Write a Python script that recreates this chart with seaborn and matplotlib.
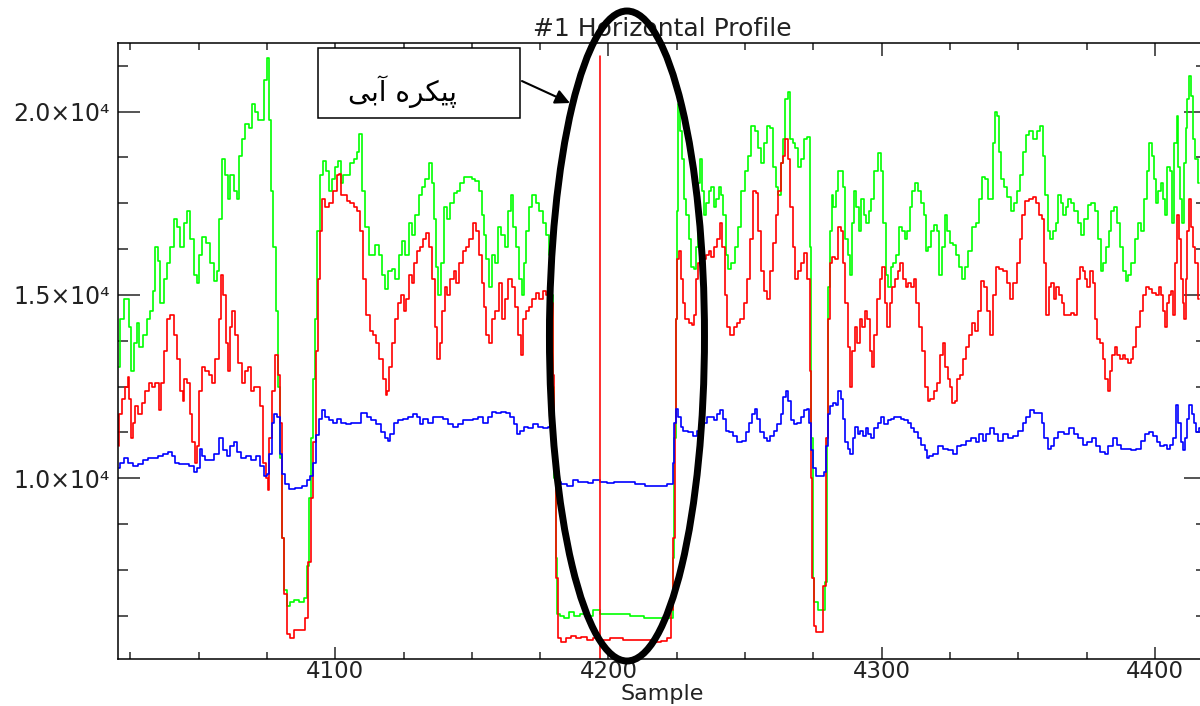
import matplotlib
matplotlib.use("Agg")
import matplotlib.pyplot as plt
import seaborn as sns
from matplotlib.ticker import MultipleLocator, FixedLocator, FuncFormatter
from matplotlib.patches import Ellipse, Rectangle

# ---------------- data ----------------
green_x = [4020.7, 4021.9, 4023.8, 4025.0, 4025.6, 4026.8, 4027.8, 4028.6, 4030.5, 4031.7, 4032.9, 4033.5,
           4034.7, 4035.4, 4036.6, 4037.8, 4039.0, 4040.2, 4041.5, 4042.7, 4043.9, 4045.1, 4046.3, 4047.5,
           4048.8, 4049.7, 4050.6, 4051.8, 4053.6, 4054.9, 4056.1, 4057.3, 4057.9, 4059.1, 4060.4, 4061.0,
           4062.2, 4063.4, 4064.6, 4065.2, 4066.5, 4067.7, 4068.9, 4070.1, 4071.3, 4072.5, 4073.8, 4074.4,
           4075.4, 4076.2, 4076.8, 4077.8, 4078.6, 4079.3, 4080.1, 4080.8, 4081.7, 4082.9, 4084.1, 4086.0,
           4087.8, 4089.0, 4090.0, 4090.8, 4091.5, 4092.4, 4093.0, 4093.9, 4095.1, 4096.1, 4096.9, 4098.2,
           4099.4, 4100.6, 4101.5, 4102.4, 4103.6, 4104.9, 4106.1, 4107.3, 4108.3, 4109.1, 4110.4, 4111.6,
           4112.8, 4114.0, 4115.2, 4116.5, 4117.7, 4118.9,
           4120.1, 4121.4, 4122.6, 4123.8, 4125.0, 4126.2, 4127.5, 4128.7, 4129.9, 4131.1, 4132.3, 4133.6,
           4134.8, 4135.7, 4136.6, 4137.2, 4138.2, 4139.0, 4140.3, 4141.5, 4142.7, 4143.9, 4145.1, 4146.4,
           4147.6, 4149.2, 4150.6, 4151.8, 4153.1, 4154.0, 4154.9, 4155.7, 4156.7, 4157.7, 4158.9, 4160.1,
           4161.4, 4162.6, 4163.8, 4164.7, 4165.5, 4166.5, 4167.7, 4168.7, 4169.5, 4170.4, 4171.4, 4172.8,
           4174.0, 4175.3, 4176.5, 4177.5, 4178.7, 4179.3, 4179.9, 4180.5, 4180.9, 4181.4, 4182.9, 4184.8,
           4186.6, 4188.4, 4190.9, 4193.3, 4195.7, 4198.2, 4201.8, 4205.5, 4210.4, 4215.3, 4218.3,
           4220.1, 4223.1, 4223.8, 4224.4, 4224.7, 4225.2, 4225.7, 4226.4, 4227.2, 4228.0, 4229.0, 4229.9,
           4230.6, 4231.7, 4232.3, 4232.9, 4233.8, 4234.5, 4235.4, 4236.3, 4237.2, 4238.2, 4239.1, 4239.9,
           4240.7, 4241.5, 4242.4, 4243.4, 4244.3, 4245.6, 4246.8, 4248.0, 4249.2, 4250.5, 4251.7, 4252.9,
           4254.1, 4255.4, 4256.4, 4257.5, 4258.7, 4259.9, 4260.8, 4261.7, 4262.7, 4263.6, 4264.4, 4265.2,
           4266.0, 4266.9, 4267.9, 4268.9, 4269.7, 4270.9, 4272.2, 4273.4, 4274.0, 4274.6, 4275.0, 4275.8,
           4277.3, 4278.9, 4279.6, 4280.1, 4280.6, 4281.4, 4282.0, 4282.6, 4283.6, 4284.4, 4285.4, 4286.3,
           4287.2, 4288.1, 4288.9, 4289.7, 4290.3, 4291.2, 4292.1, 4293.0, 4293.9, 4294.8, 4295.8, 4296.7,
           4297.9, 4299.1, 4300.1, 4301.0, 4301.8, 4302.8, 4303.7, 4304.6, 4305.6, 4306.8, 4308.1, 4308.9,
           4309.8, 4310.8, 4311.7, 4312.7, 4313.8, 4315.1, 4315.9,
           4316.6, 4317.6, 4318.5, 4319.7, 4320.5, 4321.5, 4322.5, 4323.5, 4324.5, 4325.4, 4326.7, 4327.7,
           4328.6, 4329.9, 4331.1, 4332.3, 4333.8, 4335.0, 4336.2, 4337.2, 4338.4, 4339.4, 4340.4, 4341.1,
           4341.7, 4342.6, 4343.3, 4344.2, 4345.4, 4346.7, 4347.9, 4349.1, 4350.3, 4351.2, 4352.2, 4353.4,
           4354.6, 4356.1, 4357.3, 4358.5, 4359.5, 4360.3, 4361.2, 4362.2, 4363.2, 4364.2, 4365.0, 4365.9,
           4366.9, 4367.9, 4368.8, 4369.9, 4371.2, 4372.4, 4373.6, 4374.8, 4376.1, 4377.3, 4378.5, 4379.7,
           4380.7, 4381.6, 4382.6, 4383.5, 4384.6, 4385.6, 4386.5, 4387.7, 4388.9, 4389.8, 4390.8, 4392.0,
           4393.2, 4394.4, 4395.7, 4396.5, 4397.5, 4398.4, 4399.2, 4400.0, 4400.7, 4401.7, 4402.4, 4403.4,
           4404.2, 4404.9, 4405.8, 4406.7, 4407.6, 4408.3, 4408.8, 4409.5, 4410.4, 4411.0, 4411.6, 4412.2,
           4412.9, 4413.7, 4414.4, 4415.3, 4416.1]
green_y = [13040, 14350, 14890, 14130, 12930, 13700, 14240, 13590, 13910, 14350, 14560, 15100,
           16300, 15920, 14780, 15430, 15870, 16300, 17070, 16850, 16300, 16960, 17280, 16520,
           15540, 15330, 16090, 16570, 16410, 15870, 15380, 15650, 17070, 18700, 18260, 17610,
           18260, 17830, 17610, 18800, 19240, 19670, 19560, 20220, 20000, 19780, 19780, 20870,
           21470, 19780, 17830, 16300, 14560, 12500, 10540, 8370, 6960, 6520, 6630, 6680,
           6630, 6740, 7610, 9460, 11090, 12720, 14350, 16740, 18260, 18640, 18370, 17830,
           18150, 18480, 18640, 18040, 18260, 18260, 18590, 18700, 18910, 19400, 17830, 16850,
           16090, 16090, 16360, 16090, 15540, 15160,
           15650, 15710, 15430, 16090, 16470, 16090, 16960, 16630, 17170, 17720, 17940, 18150,
           18590, 18040, 17070, 15760, 15000, 15870, 17390, 17070, 17500, 17770, 17830, 18040,
           18210, 18210, 18150, 18100, 17830, 17170, 16630, 15980, 15220, 16090, 15870, 16850,
           16630, 16300, 17280, 17720, 16850, 16300, 15430, 15000, 15870, 16740, 17390, 17720,
           17500, 17280, 16960, 16630, 16090, 15000, 12500, 10000, 7830, 6310, 6250, 6200,
           6360, 6250, 6310, 6250, 6410, 6310, 6310, 6310, 6250, 6180, 6180,
           6180, 6200, 7830, 11090, 14350, 17280, 20200, 19460, 18700, 17610, 17170, 16520,
           15760, 15710, 16300, 18040, 18700, 17830, 17170, 17500, 17830, 17940, 17390, 17610,
           17940, 17720, 17170, 16090, 15710, 15870, 16300, 16850, 17830, 18370, 18800, 19620,
           19460, 19020, 18590, 19130, 19620, 19560, 18480, 17940, 17720, 18590, 19240, 20330,
           20540, 19240, 19130, 19020, 18480, 18700, 19240, 19300, 16300, 11090, 7280, 6630,
           6410, 6410, 7170, 11090, 15220, 16740, 17720, 17390, 17830, 18370, 18370, 17940,
           16520, 16090, 15540, 16960, 17830, 17390, 16740, 17610, 17170, 16960, 17280, 17610,
           18370, 18860, 18370, 16960, 15540, 15220, 15760, 15870, 16090, 16850, 16740, 16520,
           16740, 17390, 17830, 18040, 17830, 17500, 17170,
           16200, 16300, 16740, 16900, 16740, 15540, 16300, 17170, 16740, 16410, 16360, 16090,
           15760, 15430, 15760, 16200, 16850, 16960, 17610, 18210, 18150, 17610, 17610, 19130,
           20000, 19890, 18910, 18150, 17940, 17660, 17280, 17500, 17830, 18260, 18910, 19350,
           19460, 19240, 19460, 19620, 18800, 17720, 16740, 16520, 16740, 16960, 17720, 17500,
           17170, 17390, 17610, 17500, 17280, 16960, 16630, 17070, 17450, 17500, 17280, 16520,
           15650, 15870, 16300, 16740, 17280, 17390, 16960, 16300, 15650, 15380, 15540, 15870,
           16520, 16960, 16740, 17610, 18370, 19130, 18800, 18150, 17500, 17830, 18040, 17610,
           17170, 18480, 18370, 16960, 19130, 19890, 18480, 17610, 16960, 18590, 19560, 20330,
           20980, 20430, 19240, 18700, 18040]

red_x = [4020.7, 4021.3, 4022.5, 4023.8, 4024.4, 4025.0, 4025.6, 4026.2, 4027.4, 4028.6, 4029.9, 4031.1,
         4032.3, 4033.5, 4034.7, 4036.0, 4036.6, 4037.8, 4039.0, 4040.2, 4041.5, 4042.7, 4043.9, 4044.5,
         4045.1, 4046.3, 4047.3, 4048.2, 4048.8, 4049.7, 4050.6, 4051.8, 4053.0, 4054.3, 4055.5, 4056.7,
         4057.9, 4058.5, 4059.5, 4060.4, 4061.0, 4061.9, 4062.8, 4064.0, 4065.2, 4066.5, 4067.7, 4068.5,
         4069.5, 4070.7, 4071.9, 4073.2, 4074.1, 4075.0, 4075.6, 4076.2, 4077.4, 4078.6, 4079.5, 4080.2,
         4080.8, 4081.7, 4082.9, 4084.1, 4086.0, 4088.4, 4089.6, 4090.5, 4091.5, 4092.4, 4093.3, 4094.1,
         4094.9, 4095.7, 4096.9, 4098.2, 4100.0, 4101.0, 4101.8, 4102.4, 4103.6, 4104.9, 4106.1, 4107.3,
         4108.5, 4109.7, 4110.7, 4111.9, 4113.2, 4114.4, 4115.6, 4116.8, 4118.0, 4118.9,
         4119.2, 4120.1, 4121.1, 4122.3, 4123.6, 4124.8, 4125.6, 4126.5, 4127.5, 4128.4, 4129.3, 4130.5,
         4131.7, 4132.9, 4133.9, 4134.8, 4136.0, 4137.0, 4137.8, 4138.7, 4139.7, 4140.6, 4141.5, 4142.7,
         4143.9, 4144.8, 4146.0, 4147.2, 4148.4, 4149.7, 4150.9, 4151.8, 4153.1, 4154.0, 4154.9, 4155.7,
         4157.0, 4157.9, 4159.2, 4160.4, 4161.6, 4162.8, 4164.0, 4165.3, 4166.5, 4167.5, 4168.3, 4169.2,
         4170.4, 4171.6, 4172.8, 4174.0, 4175.3, 4176.5, 4177.7, 4178.7, 4179.3, 4179.9, 4180.5, 4181.1,
         4181.7, 4183.6, 4185.4, 4187.2, 4189.0, 4190.9, 4193.3, 4195.7, 4198.2, 4203.1, 4207.9, 4212.8,
         4218.3,
         4220.1, 4222.5, 4223.5, 4224.0, 4224.5, 4225.0, 4225.5, 4226.2, 4226.9, 4227.7, 4228.7, 4229.9,
         4230.9, 4231.7, 4232.3, 4233.3, 4234.5, 4235.4, 4236.3, 4237.2, 4238.2, 4239.1, 4240.3, 4241.2,
         4242.1, 4243.1, 4244.0, 4245.2, 4246.4, 4247.7, 4248.9, 4250.1, 4251.3, 4252.6, 4253.4, 4254.4,
         4255.4, 4256.4, 4257.5, 4258.7, 4259.9, 4260.8, 4261.7, 4262.7, 4263.6, 4264.4, 4265.2, 4266.0,
         4266.9, 4267.9, 4268.9, 4269.7, 4270.9, 4272.2, 4273.4, 4273.8, 4274.2, 4274.7, 4275.5, 4276.4,
         4278.3, 4279.1, 4279.9, 4280.6, 4281.4, 4282.3, 4283.6, 4284.5, 4285.4, 4286.3, 4287.1, 4288.1,
         4288.9, 4289.7, 4290.5, 4291.4, 4292.4, 4293.4, 4294.2, 4295.1, 4296.1, 4296.9, 4297.8, 4298.8,
         4299.7, 4300.7, 4301.6, 4302.4, 4303.4, 4304.4, 4305.4, 4306.4, 4307.3, 4308.3, 4309.3, 4310.3,
         4311.3, 4312.2, 4313.2, 4314.4, 4315.4,
         4316.4, 4317.2, 4318.5, 4319.7, 4320.9, 4321.8, 4322.8, 4323.7, 4324.6, 4325.4, 4326.2, 4327.2,
         4328.1, 4329.1, 4330.1, 4331.3, 4332.6, 4333.8, 4334.8, 4335.6, 4336.8, 4338.1, 4339.1, 4340.2,
         4341.1, 4342.4, 4343.6, 4345.1, 4346.3, 4347.5, 4348.7, 4350.0, 4350.9, 4351.9, 4353.1, 4354.6,
         4356.1, 4357.1, 4358.3, 4359.0, 4359.8, 4360.7, 4361.5, 4362.5, 4363.4, 4364.4, 4365.4, 4366.3,
         4367.5, 4368.7, 4369.9, 4371.2, 4372.0, 4373.0, 4374.0, 4374.8, 4375.7, 4376.7, 4377.7, 4378.3,
         4379.1, 4380.4, 4381.3, 4382.3, 4383.0, 4383.8, 4384.8, 4385.7, 4386.7, 4387.7, 4388.7, 4389.7,
         4390.6, 4391.6, 4392.6, 4393.8, 4395.1, 4396.3, 4397.3, 4398.5, 4399.7, 4400.9, 4401.9, 4402.7,
         4403.4, 4404.1, 4404.9, 4405.6, 4406.3, 4407.1, 4407.6, 4408.3, 4409.0, 4409.8, 4410.4, 4411.0,
         4411.6, 4412.2, 4412.9, 4413.7, 4414.4, 4415.3, 4416.1]
red_y = [10870, 11740, 12170, 12500, 12770, 12170, 11090, 11520, 11960, 11740, 12060, 12390,
         12610, 12500, 12610, 11850, 12610, 13480, 14350, 14450, 13910, 13260, 12390, 12120,
         12720, 12610, 11740, 10980, 10430, 10870, 12390, 13040, 12930, 12830, 12610, 13260,
         14350, 15540, 15000, 13700, 12930, 14130, 14560, 13910, 13150, 12610, 12930, 13040,
         12390, 12500, 12500, 11960, 10430, 10000, 9670, 11090, 12390, 13370, 12830, 11520,
         8370, 6850, 5760, 5650, 5870, 5870, 6200, 7720, 9460, 10980, 13480, 15430,
         16740, 17610, 17390, 17500, 17830, 18260, 18310, 17720, 17720, 17550, 17500, 17390,
         17280, 16740, 15430, 14450, 14020, 13910, 13700, 13260, 12720, 12280,
         12390, 13040, 13700, 14350, 14780, 15000, 14560, 14890, 15540, 15330, 15870, 16200,
         16300, 16520, 16690, 16300, 15430, 14130, 13260, 13700, 14560, 15220, 15000, 15430,
         15650, 15330, 15870, 16200, 16300, 16520, 16960, 16740, 16090, 15330, 14670, 13910,
         13700, 14350, 14560, 15330, 14350, 14890, 15430, 15220, 14670, 13910, 13370, 14350,
         14560, 14670, 14890, 15050, 14890, 15110, 15000, 14890, 14780, 12830, 10540, 7280,
         5650, 5540, 5650, 5710, 5650, 5680, 5600, 5650, 5600, 5650, 5600, 5600,
         5540,
         5570, 5650, 6410, 8370, 11520, 14350, 15980, 16200, 15430, 14780, 14350, 14240,
         14180, 14450, 15430, 15870, 15760, 15980, 16090, 16200, 16040, 16300, 16520, 16960,
         16300, 15000, 14130, 13910, 14130, 14240, 14350, 14780, 15430, 16520, 17830, 17770,
         16740, 15650, 15110, 14890, 15650, 16410, 17170, 17830, 18590, 18800, 19240, 18700,
         17390, 16300, 15430, 15650, 15870, 16140, 15430, 12930, 10000, 7280, 5980, 5810,
         5810, 7060, 11090, 14350, 15870, 16040, 15980, 16850, 16740, 15870, 14780, 13590,
         12500, 13480, 14130, 13700, 14350, 14130, 14560, 14350, 13480, 13040, 13910, 14890,
         15430, 15760, 14780, 14130, 14780, 15220, 15430, 15650, 15870, 15430, 15220, 15330,
         15220, 15430, 14780, 14130, 13480,
         12500, 12120, 12170, 12390, 12610, 13370, 13700, 13040, 12720, 12500, 12060, 12120,
         12720, 12830, 13260, 13590, 13910, 14240, 14020, 14560, 15380, 15220, 14560, 13910,
         15000, 15760, 15710, 15650, 15330, 14890, 15330, 15870, 16520, 17170, 17550, 17610,
         17660, 17500, 17170, 17070, 15870, 14450, 15220, 15330, 14890, 15220, 15000, 14780,
         14450, 14450, 14510, 14450, 15430, 15760, 15650, 15430, 15220, 15650, 15330, 14350,
         13800, 13700, 13260, 12720, 12390, 12930, 13370, 13590, 13370, 13260, 13370, 13260,
         13150, 13260, 13590, 14130, 14560, 15000, 15220, 15160, 15050, 15000, 15220, 15000,
         14560, 14130, 14780, 15000, 15110, 14450, 15870, 17170, 16520, 15430, 14780, 14350,
         15430, 16740, 17610, 16850, 16300, 15870, 14890]

blue_x = [4020.7, 4021.9, 4023.2, 4025.0, 4026.8, 4028.6, 4030.5, 4032.3, 4034.1, 4036.0, 4037.8, 4039.6,
          4040.8, 4042.1, 4043.9, 4045.7, 4047.5, 4048.8, 4049.7, 4051.0, 4051.8, 4053.0, 4054.9, 4056.7,
          4058.3, 4059.7, 4061.0, 4062.2, 4063.4, 4064.6, 4066.5, 4068.3, 4070.1, 4071.9, 4073.4, 4074.4,
          4075.4, 4076.2, 4077.4, 4078.0, 4079.3, 4080.1, 4081.1, 4082.3, 4084.1, 4086.6, 4089.0, 4090.2,
          4091.5, 4092.4, 4093.3, 4094.5, 4095.7, 4096.9, 4098.2, 4100.0, 4101.2, 4103.0, 4104.9, 4106.7,
          4108.5, 4110.7, 4112.2, 4114.0, 4115.8, 4117.7, 4118.9,
          4119.5, 4120.7, 4122.0, 4123.8, 4125.6, 4127.5, 4129.3, 4130.5, 4131.7, 4132.9, 4134.8, 4136.6,
          4138.4, 4140.3, 4142.1, 4143.9, 4145.7, 4147.6, 4149.4, 4151.2, 4153.1, 4154.9, 4156.7, 4157.9,
          4159.8, 4161.6, 4163.4, 4164.7, 4165.9, 4167.1, 4168.3, 4169.9, 4171.4, 4173.2, 4175.0, 4176.9,
          4178.7, 4179.9, 4180.7, 4181.4, 4183.6, 4186.0, 4187.8, 4189.7, 4191.5, 4193.3, 4195.7, 4198.2,
          4200.6, 4203.1, 4207.9, 4211.6, 4215.3, 4218.3,
          4220.1, 4223.1, 4223.8, 4224.4, 4225.0, 4226.0, 4226.8, 4228.0, 4229.9, 4231.7, 4232.9, 4234.2,
          4235.4, 4236.6, 4237.8, 4239.1, 4240.3, 4241.5, 4242.4, 4243.4, 4244.8, 4246.4, 4248.0, 4249.5,
          4251.0, 4252.2, 4253.2, 4254.0, 4255.0, 4256.2, 4257.5, 4258.7, 4259.9, 4261.1, 4262.4, 4263.6,
          4264.4, 4265.4, 4266.3, 4267.3, 4268.5, 4269.7, 4270.9, 4272.2, 4273.1, 4274.0, 4274.6, 4275.2,
          4276.4, 4278.3, 4279.5, 4280.1, 4280.7, 4281.6, 4282.6, 4283.6, 4284.5, 4285.4, 4286.3, 4287.2,
          4288.1, 4288.9, 4289.9, 4290.8, 4291.8, 4292.6, 4293.6, 4294.6, 4295.4, 4296.7, 4297.9, 4299.1,
          4300.3, 4301.6, 4302.8, 4304.0, 4305.2, 4306.5, 4307.7, 4308.9, 4310.2, 4311.4, 4312.6, 4313.8,
          4315.1, 4316.3,
          4316.6, 4317.9, 4319.7, 4321.5, 4323.4, 4325.2, 4327.0, 4328.3, 4330.1, 4331.9, 4333.8, 4335.0,
          4336.5, 4337.5, 4338.7, 4340.5, 4341.7, 4343.6, 4345.4, 4347.3, 4349.1, 4350.9, 4352.2, 4353.4,
          4354.9, 4356.5, 4358.0, 4359.0, 4360.1, 4361.4, 4362.6, 4363.8, 4365.6, 4367.5, 4369.3, 4371.2,
          4372.8, 4374.2, 4376.1, 4377.7, 4379.1, 4381.0, 4382.2, 4383.8, 4385.3, 4386.7, 4388.3, 4390.2,
          4392.0, 4393.8, 4395.7, 4397.3, 4398.7, 4400.0, 4401.2, 4402.7, 4403.9, 4405.1, 4406.3, 4407.3,
          4408.2, 4409.0, 4409.8, 4410.7, 4411.5, 4412.2, 4413.1, 4413.8, 4414.7, 4415.6, 4416.5]
blue_y = [10270, 10430, 10540, 10430, 10330, 10380, 10490, 10540, 10540, 10600, 10650, 10710,
          10600, 10430, 10380, 10380, 10330, 10160, 10270, 10810, 10600, 10490, 10490, 10650,
          11090, 10760, 10600, 10870, 11000, 10710, 10540, 10600, 10490, 10600, 10330, 10050,
          10110, 10650, 11520, 11740, 11680, 10650, 10110, 9840, 9700, 9730, 9780, 9950,
          10050, 10430, 11170, 11610, 11850, 11680, 11580, 11520, 11610, 11520, 11470, 11520,
          11520, 11790, 11680, 11580, 11470, 11250, 11090,
          11030, 11200, 11520, 11580, 11630, 11680, 11740, 11680, 11470, 11630, 11520, 11680,
          11680, 11630, 11470, 11410, 11470, 11580, 11580, 11630, 11680, 11520, 11680, 11820,
          11790, 11820, 11790, 11680, 11470, 11200, 11300, 11410, 11360, 11470, 11410, 11360,
          11410, 11200, 10650, 9890, 9840, 9800, 9950, 9890, 9910, 9870, 9950, 9910,
          9870, 9890, 9890, 9840, 9780, 9780,
          9800, 9840, 10430, 11520, 11900, 11680, 11410, 11300, 11250, 11140, 11300, 11520,
          11520, 11680, 11680, 11580, 11740, 11850, 11630, 11300, 11250, 11140, 10980, 11030,
          11250, 11520, 11740, 11900, 11630, 11250, 11090, 11030, 11140, 11300, 11470, 11740,
          12230, 12390, 12120, 11580, 11470, 11520, 11680, 11850, 11900, 11520, 10760, 10270,
          10050, 10050, 10160, 10870, 11740, 11960, 12060, 12010, 12390, 12170, 11630, 10980,
          10810, 10650, 11090, 11410, 11200, 11300, 11140, 11360, 11200, 11090, 11360, 11520,
          11680, 11470, 11580, 11630, 11680, 11680, 11630, 11580, 11520, 11360, 11250, 11090,
          10920, 10760,
          10540, 10600, 10650, 10870, 10810, 10760, 10650, 10870, 10920, 11030, 11090, 10980,
          11200, 11030, 11200, 11360, 11200, 11030, 11200, 11090, 11140, 11300, 11520, 11680,
          11850, 11790, 11790, 11520, 11090, 10810, 10870, 11090, 11250, 11200, 11360, 11200,
          11090, 10920, 10980, 11090, 10870, 10710, 10650, 10870, 11090, 10920, 10810, 10810,
          10760, 10810, 11030, 11200, 11250, 11140, 10980, 10870, 10920, 10810, 10920, 11090,
          12010, 11520, 10980, 10760, 11090, 11630, 12010, 11740, 11520, 11250, 11360]

marker_sample = 4197.0     # red vertical cursor line
marker_top = 21520

x_limits = (4020.5, 4418.7)
y_limits = (5080, 21870)
y_major = [10000, 15000, 20000]

title_text = "#1 Horizontal Profile"
xlabel_text = "Sample"
note_text = "پیکره آبی"

# shaped (presentation forms, visual order) version of note_text for rendering
shape_map = {"پ": ("\uFB56", "\uFB57", "\uFB58", "\uFB59"),
             "ی": ("\uFBFC", "\uFBFD", "\uFBFE", "\uFBFF"),
             "ک": ("\uFB8E", "\uFB8F", "\uFB90", "\uFB91"),
             "ر": ("\uFEAD", "\uFEAE", "\uFEAD", "\uFEAE"),
             "ه": ("\uFEE9", "\uFEEA", "\uFEEB", "\uFEEC"),
             "آ": ("\uFE81", "\uFE82", "\uFE81", "\uFE82"),
             "ب": ("\uFE8F", "\uFE90", "\uFE91", "\uFE92")}
non_joining_left = set("رآ")


def shape_persian(text):
    out = []
    chars = list(text)
    for i, ch in enumerate(chars):
        if ch not in shape_map:
            out.append(ch)
            continue
        prev = chars[i - 1] if i > 0 else " "
        nxt = chars[i + 1] if i + 1 < len(chars) else " "
        joins_prev = prev in shape_map and prev not in non_joining_left
        joins_next = nxt in shape_map and ch not in non_joining_left
        iso, fin, ini, med = shape_map[ch]
        if joins_prev and joins_next:
            out.append(med)
        elif joins_prev:
            out.append(fin)
        elif joins_next:
            out.append(ini)
        else:
            out.append(iso)
    return "".join(reversed(out))


# ---------------- figure ----------------
sns.set_style("white")
plt.rcParams['font.family'] = ['DejaVu Sans']
plt.rcParams['axes.linewidth'] = 1.1

fig = plt.figure(figsize=(12, 7.06), dpi=100)
ax = fig.add_axes([118 / 1200, 1 - 658.7 / 706, 1088 / 1200, 615.7 / 706])

for xs, ys, col in [(green_x, green_y, "#00ff00"), (red_x, red_y, "#ff0000"), (blue_x, blue_y, "#0000ff")]:
    sns.lineplot(x=xs, y=ys, ax=ax, color=col, lw=1.2, estimator=None, sort=False,
                 drawstyle="steps-mid")

ax.set_xlim(*x_limits)
ax.set_ylim(*y_limits)
ax.axvline(marker_sample, ymin=0, ymax=(marker_top - y_limits[0]) / (y_limits[1] - y_limits[0]),
           color="#ff0000", lw=1.15)

txt_col = "#222222"
ax.xaxis.set_major_locator(MultipleLocator(100))
ax.xaxis.set_minor_locator(MultipleLocator(25))
ax.yaxis.set_major_locator(FixedLocator(y_major))
ax.yaxis.set_minor_locator(MultipleLocator(1250))
ax.yaxis.set_major_formatter(FuncFormatter(lambda v, p: f"{v / 1e4:.1f}×10\u2074"))
ax.tick_params(axis="x", which="major", direction="in", length=9, width=1.1, top=True, bottom=True,
               labelsize=16.5, pad=1, labelcolor=txt_col)
ax.tick_params(axis="x", which="minor", direction="in", length=5, width=1.1, top=True, bottom=True)
ax.tick_params(axis="y", which="major", direction="in", length=16, width=1.1, left=True, right=True,
               labelsize=17, pad=6, labelcolor=txt_col)
ax.tick_params(axis="y", which="minor", direction="in", length=7, width=1.1, left=True, right=True)
for s in ax.spines.values():
    s.set_color("black")

ax.set_title(title_text, fontsize=18, pad=5, color=txt_col)
ax.set_xlabel(xlabel_text, fontsize=16, color=txt_col)
ax.xaxis.set_label_coords(0.5, -0.0405)
ax.xaxis.label.set_va("top")
ax.set_ylabel("")

# annotation: box with Persian label, arrow, ellipse
ax.add_patch(Rectangle((0.1838, 0.8782), 0.1857, 0.1137, transform=ax.transAxes, fc="white",
                       ec="black", lw=1.1, zorder=9, clip_on=False))
ax.text(0.2615, 0.921, shape_persian(note_text), transform=ax.transAxes, ha="center", va="center",
        fontsize=20, color="black", family=["DejaVu Sans"], zorder=11)
ax.annotate("", xy=(0.4154, 0.9025), xytext=(0.3713, 0.9382), xycoords="axes fraction",
            arrowprops=dict(arrowstyle="-|>", color="black", lw=1.5, mutation_scale=22,
                            shrinkA=0, shrinkB=0), zorder=11)
ax.add_patch(Ellipse((0.4678, 0.5241), 0.1425, 1.0557, transform=ax.transAxes, fill=False,
                     ec="black", lw=5, zorder=12, clip_on=False))

fig.savefig("out.png", dpi=100)
